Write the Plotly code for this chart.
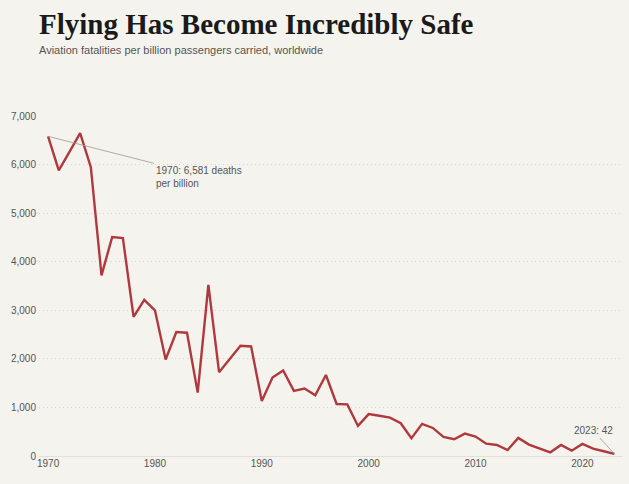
import plotly.graph_objects as go

# Aviation fatalities per billion passengers, 1970-2023
years = list(range(1970, 2024))
deaths_per_billion = [
    6581, 5880, 6260, 6646, 5945, 3720, 4510, 4485, 2866, 3215,
    2999, 1988, 2552, 2538, 1305, 3522, 1725, 1990, 2268, 2255,
    1132, 1615, 1762, 1340, 1390, 1252, 1668, 1070, 1062, 619,
    862, 828, 791, 675, 365, 661, 578, 392, 344, 461,
    399, 254, 227, 124, 372, 234, 158, 76, 227, 110,
    248, 151, 97, 42,
]

y_ticks = [0, 1000, 2000, 3000, 4000, 5000, 6000, 7000]
y_tick_text = ["0", "1,000", "2,000", "3,000", "4,000", "5,000", "6,000", "7,000"]
x_ticks = [1970, 1980, 1990, 2000, 2010, 2020]

BG = "#f5f3ee"
LINE = "#b0393e"
GREY = "#555555"
SANS = "Liberation Sans, Arial, sans-serif"

fig = go.Figure()
fig.add_trace(go.Scatter(
    x=years, y=deaths_per_billion, mode="lines",
    line=dict(color=LINE, width=2.4),
    hoverinfo="x+y", showlegend=False,
))

# callouts for first and last year
fig.add_annotation(
    x=years[0], y=deaths_per_billion[0],
    text=f"{years[0]}: {deaths_per_billion[0]:,} deaths<br>per billion",
    showarrow=True, arrowhead=0, arrowwidth=0.8, arrowcolor="#999999",
    ax=106, ay=27, xanchor="left", yanchor="top", align="left",
    font=dict(family=SANS, size=10, color=GREY),
)
fig.add_annotation(
    x=years[-1], y=deaths_per_billion[-1],
    text=f"{years[-1]}: {deaths_per_billion[-1]}",
    showarrow=True, arrowhead=0, arrowwidth=0.8, arrowcolor="#999999",
    ax=-21, ay=-23,
    font=dict(family=SANS, size=10, color=GREY),
)

fig.update_layout(
    width=629, height=484,
    paper_bgcolor=BG, plot_bgcolor=BG,
    margin=dict(l=39, r=6, t=116, b=28, autoexpand=False),
    font=dict(family=SANS, size=10, color=GREY),
)
# title and subtitle as paper annotations so they line up with the plot edge
fig.add_annotation(
    text="<b>Flying Has Become Incredibly Safe</b>",
    xref="paper", yref="paper", x=-0.003, y=1.272, xanchor="left", yanchor="middle",
    showarrow=False,
    font=dict(family="Liberation Serif, Times New Roman, serif", size=29, color="#1a1a1a"),
)
fig.add_annotation(
    text="Aviation fatalities per billion passengers carried, worldwide",
    xref="paper", yref="paper", x=-0.003, y=1.195, xanchor="left", yanchor="middle",
    showarrow=False,
    font=dict(family=SANS, size=11, color=GREY),
)

fig.update_xaxes(
    range=[1969.15, 2023.8], tickvals=x_ticks, showgrid=False,
    showline=False, zeroline=False, ticks="", automargin=False,
    tickfont=dict(size=10, color=GREY),
)
fig.update_yaxes(
    range=[0, 7000], tickvals=y_ticks, ticktext=y_tick_text,
    showgrid=True, gridcolor="#d8d5ce", griddash="1px,3px", gridwidth=1,
    zeroline=True, zerolinecolor="#e3e0d9", zerolinewidth=1,
    showline=False, ticks="", ticklabelstandoff=2, automargin=False,
    tickfont=dict(size=10, color=GREY),
)

# drop the browser's default body margin so the figure sits at the window corner
fig.write_html(
    "out.html",
    config={"displayModeBar": False},
    post_script="document.body.style.margin='0';document.body.style.background='#f5f3ee';",
)
